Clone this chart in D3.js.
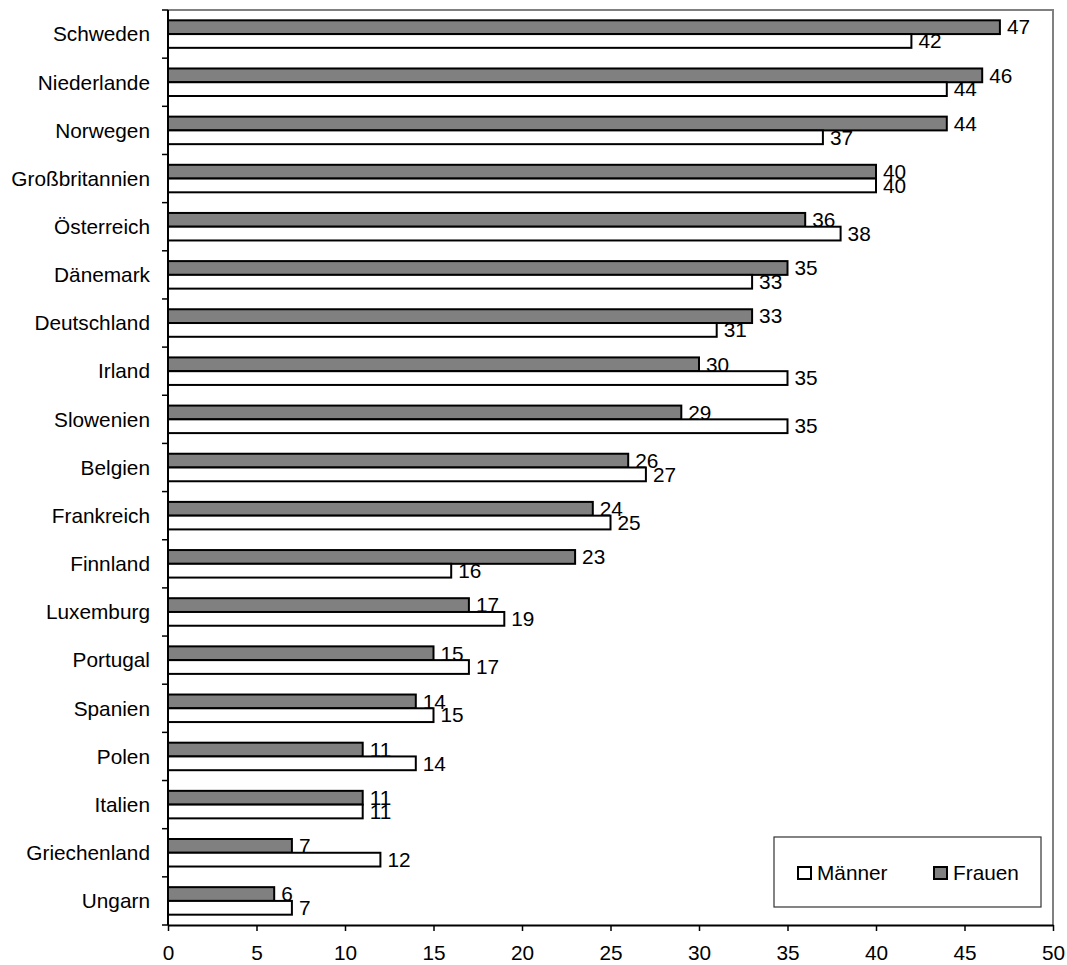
<!DOCTYPE html>
<html>
<head>
<meta charset="utf-8">
<title>Bars</title>
<style>
  body, html { margin: 0; padding: 0; background: #fff; }
  text { font-family: "Liberation Sans", Arial, sans-serif; fill: #000; }
</style>
</head>
<body>
<svg id="svg" width="1067" height="965"></svg>
<script src="https://d3js.org/d3.v7.min.js"></script>
<script>
  const countries = ['Schweden', 'Niederlande', 'Norwegen', 'Großbritannien', 'Österreich',
    'Dänemark', 'Deutschland', 'Irland', 'Slowenien', 'Belgien', 'Frankreich', 'Finnland',
    'Luxemburg', 'Portugal', 'Spanien', 'Polen', 'Italien', 'Griechenland', 'Ungarn']
  const frauen = [47, 46, 44, 40, 36, 35, 33, 30, 29, 26, 24, 23, 17, 15, 14, 11, 11, 7, 6]
  const maenner = [42, 44, 37, 40, 38, 33, 31, 35, 35, 27, 25, 16, 19, 17, 15, 14, 11, 12, 7]
  const xTicks = [0, 5, 10, 15, 20, 25, 30, 35, 40, 45, 50]
  const seriesNames = ['Frauen', 'Männer']
  const legendOrder = ['Männer', 'Frauen']
  const colors = { 'Männer': '#ffffff', 'Frauen': '#808080' }

  const data = countries.map((c, i) => ({ country: c, Frauen: frauen[i], 'Männer': maenner[i] }))

  const margin = { top: 10, right: 14, bottom: 40, left: 168 }
  const fs = 20.8

  const svg = d3.select('#svg')

  const x = d3.scaleLinear().domain([0, 50]).range([margin.left, 1053])
  const y = d3.scaleBand().domain(countries).range([margin.top, 925])
    .paddingInner(1.5 / 3.5).paddingOuter(0.75 / 3.5)
  const ys = d3.scaleBand().domain(seriesNames).range([0, y.bandwidth()])

  // plot frame (gray top/right)
  svg.append('path')
    .attr('d', `M${x(0)},${margin.top}H${x(50)}V925`)
    .attr('fill', 'none').attr('stroke', '#808080').attr('stroke-width', 2)

  // bars
  const groups = svg.append('g').selectAll('g').data(data).enter().append('g')
    .attr('transform', d => `translate(0,${y(d.country)})`)

  seriesNames.forEach(s => {
    groups.append('rect')
      .attr('x', x(0))
      .attr('y', ys(s))
      .attr('width', d => x(d[s]) - x(0))
      .attr('height', ys.bandwidth())
      .attr('fill', colors[s])
      .attr('stroke', '#000')
      .attr('stroke-width', 2)
    groups.append('text')
      .attr('x', d => x(d[s]) + 7)
      .attr('y', ys(s) + ys.bandwidth() / 2)
      .attr('dy', '0.35em')
      .style('font-size', fs + 'px')
      .text(d => d[s])
  })

  // x axis
  const xAxis = svg.append('g')
    .attr('transform', 'translate(0,925)')
    .call(d3.axisBottom(x).tickValues(xTicks).tickSize(6).tickPadding(14).tickSizeOuter(0))
  xAxis.select('.domain').attr('stroke', '#000').attr('stroke-width', 2)
  xAxis.selectAll('.tick line').attr('stroke', '#000').attr('stroke-width', 1.5)
  xAxis.selectAll('text').style('font-size', fs + 'px').attr('font-family', null)

  // y axis: category labels, ticks between categories
  const yAxis = svg.append('g').attr('transform', `translate(${x(0)},0)`)
  yAxis.append('line').attr('y1', margin.top).attr('y2', 925)
    .attr('stroke', '#000').attr('stroke-width', 2)
  const bounds = countries.map(c => y(c) - y.step() * y.paddingOuter()).concat([925])
  yAxis.selectAll('line.tk').data(bounds).enter().append('line')
    .attr('class', 'tk')
    .attr('x1', -6).attr('x2', 0)
    .attr('y1', d => d).attr('y2', d => d)
    .attr('stroke', '#000').attr('stroke-width', 1.5)
  yAxis.selectAll('text').data(countries).enter().append('text')
    .attr('x', -18)
    .attr('y', d => y(d) + y.bandwidth() / 2)
    .attr('dy', '0.35em')
    .attr('text-anchor', 'end')
    .style('font-size', fs + 'px')
    .text(d => d)

  // legend
  const lg = svg.append('g')
  lg.append('rect').attr('x', 774).attr('y', 837).attr('width', 267).attr('height', 70)
    .attr('fill', '#fff').attr('stroke', '#333').attr('stroke-width', 1.2)
  const items = lg.selectAll('g').data(legendOrder).enter().append('g')
    .attr('transform', (d, i) => `translate(${[798, 934][i]},867)`)
  items.append('rect').attr('width', 13).attr('height', 12)
    .attr('fill', d => colors[d]).attr('stroke', '#000').attr('stroke-width', 2)
  items.append('text').attr('x', 19).attr('y', 6).attr('dy', '0.35em')
    .style('font-size', fs + 'px').text(d => d)
</script>
</body>
</html>
